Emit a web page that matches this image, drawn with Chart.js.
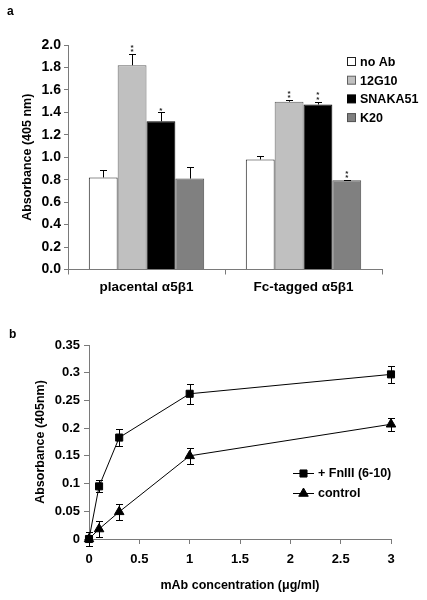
<!DOCTYPE html>
<html>
<head>
<meta charset="utf-8">
<script src="https://cdn.jsdelivr.net/npm/chart.js@4"></script>
<style>
html,body{margin:0;padding:0;background:#fff;}
#wrap{position:relative;width:427px;height:600px;overflow:hidden;}
canvas{position:absolute;left:0;}
#ca{top:0;}
#cb{top:300px;}
.lbl{position:absolute;font:bold 12px "Liberation Sans",Arial,sans-serif;color:#000;}
</style>
</head>
<body>
<div id="wrap">
<canvas id="ca" width="427" height="300"></canvas>
<canvas id="cb" width="427" height="300"></canvas>
<div class="lbl" style="left:7px;top:4px;">a</div>
<div class="lbl" style="left:9px;top:327px;">b</div>
</div>
<script>
// ---- Panel a data ----
const categories = ['placental \u03b15\u03b21', 'Fc-tagged \u03b15\u03b21'];
const seriesNames = ['no Ab', '12G10', 'SNAKA51', 'K20'];
const noAb = [0.82, 0.98];
const noAbErr = [0.07, 0.03];
const mab12G10 = [1.82, 1.495];
const mab12G10Err = [0.10, 0.015];
const snaka51 = [1.32, 1.47];
const snaka51Err = [0.08, 0.025];
const k20 = [0.81, 0.795];
const k20Err = [0.10, 0.004];
const significance = [['', '**', '*', ''], ['', '**', '**', '**']];
const yTicksA = [0, 2, 0.2];

// ---- Panel b data ----
const concentration = [0, 0.1, 0.3, 1, 3];
const fnIII = [0, 0.095, 0.183, 0.262, 0.297];
const fnIIIErr = [0.012, 0.011, 0.016, 0.018, 0.015];
const control = [0, 0.018, 0.049, 0.150, 0.207];
const controlErr = [0.004, 0.014, 0.015, 0.015, 0.012];
const lineNames = ['+ FnIII (6-10)', 'control'];

const FONT = '"Liberation Sans", Arial, sans-serif';
const AXIS = '#7a7a7a';

Chart.defaults.font.family = FONT;
Chart.defaults.color = '#000';

const barColors = ['#ffffff', '#c0c0c0', '#000000', '#808080'];
const barBorders = ['#202020', '#606060', '#000000', '#505050'];
const barValues = [noAb, mab12G10, snaka51, k20];
const barErrs = [noAbErr, mab12G10Err, snaka51Err, k20Err];

const barErrPlugin = {
  id: 'barErr',
  afterDatasetsDraw(chart) {
    const ctx = chart.ctx, y = chart.scales.y;
    ctx.save();
    chart.data.datasets.forEach((ds, di) => {
      const meta = chart.getDatasetMeta(di);
      meta.data.forEach((bar, i) => {
        const v = ds.data[i], e = barErrs[di][i];
        const yt = y.getPixelForValue(v + e), yb = y.getPixelForValue(v);
        ctx.strokeStyle = '#000'; ctx.lineWidth = 1;
        ctx.beginPath();
        ctx.moveTo(Math.round(bar.x) + 0.5, yb);
        ctx.lineTo(Math.round(bar.x) + 0.5, Math.round(yt) + 0.5);
        ctx.moveTo(Math.round(bar.x) - 3, Math.round(yt) + 0.5);
        ctx.lineTo(Math.round(bar.x) + 4, Math.round(yt) + 0.5);
        ctx.stroke();
        const s = significance[i][di];
        if (s) {
          ctx.fillStyle = '#222';
          ctx.font = 'bold 8px ' + FONT;
          ctx.textAlign = 'center'; ctx.textBaseline = 'middle';
          for (let k = 0; k < s.length; k++) {
            ctx.fillText('*', bar.x, yt - 3 - k * 4.5 + 1);
          }
        }
      });
    });
    // legend
    ctx.font = 'bold 12.5px ' + FONT;
    ctx.textAlign = 'left'; ctx.textBaseline = 'middle';
    seriesNames.forEach((n, i) => {
      const yy = 62 + i * 18.7;
      ctx.fillStyle = barColors[i];
      ctx.fillRect(347.5, yy - 4.5, 8, 8);
      ctx.strokeStyle = barBorders[i];
      ctx.strokeRect(347.5, yy - 4.5, 8, 8);
      ctx.fillStyle = '#000';
      ctx.fillText(n, 360, yy + 0.5);
    });
    ctx.restore();
  }
};

new Chart(document.getElementById('ca'), {
  type: 'bar',
  data: {
    labels: categories,
    datasets: seriesNames.map((n, i) => ({
      label: n,
      data: barValues[i],
      backgroundColor: barColors[i],
      borderColor: barBorders[i],
      borderWidth: 1,
      barPercentage: 1,
      categoryPercentage: 0.735
    }))
  },
  options: {
    responsive: false, animation: false, devicePixelRatio: 1,
    layout: {padding: {top: 45, right: 45, left: 0, bottom: 0}},
    plugins: {legend: {display: false}, tooltip: {enabled: false}},
    scales: {
      x: {
        grid: {offset: true, drawOnChartArea: false, color: AXIS, tickLength: 5},
        border: {color: AXIS},
        ticks: {font: {family: FONT, size: 13.5, weight: 'bold'}, color: '#000', padding: 5},
        afterFit(s) { s.height = 30.5; }
      },
      y: {
        min: yTicksA[0], max: yTicksA[1],
        ticks: {stepSize: yTicksA[2], font: {family: FONT, size: 14, weight: 'bold'}, color: '#000', padding: 3,
          callback: v => v.toFixed(1)},
        grid: {drawOnChartArea: false, color: AXIS, tickLength: 4},
        border: {color: AXIS},
        title: {display: true, text: 'Absorbance (405 nm)', font: {family: FONT, size: 12.5, weight: 'bold'}, color: '#000', padding: {top: 20, bottom: 0}},
        afterFit(s) { s.width = 68; }
      }
    }
  },
  plugins: [barErrPlugin]
});

const lineErrs = [fnIIIErr, controlErr];
const lineStyles = ['rect', 'triangle'];
const lineErrPlugin = {
  id: 'lineErr',
  beforeDatasetsDraw(chart) {
    const ctx = chart.ctx, x = chart.scales.x, y = chart.scales.y;
    ctx.save();
    ctx.strokeStyle = '#000'; ctx.lineWidth = 1;
    chart.data.datasets.forEach((ds, di) => {
      ds.data.forEach((p, i) => {
        const e = lineErrs[di][i];
        const px = Math.round(x.getPixelForValue(p.x)) + 0.5;
        const yt = Math.round(y.getPixelForValue(p.y + e)) + 0.5;
        const yb = Math.round(y.getPixelForValue(p.y - e)) + 0.5;
        ctx.beginPath();
        ctx.moveTo(px, yt); ctx.lineTo(px, yb);
        ctx.moveTo(px - 3.5, yt); ctx.lineTo(px + 3.5, yt);
        ctx.moveTo(px - 3.5, yb); ctx.lineTo(px + 3.5, yb);
        ctx.stroke();
      });
    });
    ctx.restore();
  },
  afterDatasetsDraw(chart) {
    const ctx = chart.ctx;
    ctx.save();
    ctx.font = 'bold 12.5px ' + FONT;
    ctx.textAlign = 'left'; ctx.textBaseline = 'middle';
    lineNames.forEach((n, i) => {
      const yy = 173 + i * 20;
      ctx.strokeStyle = '#000'; ctx.lineWidth = 1;
      ctx.beginPath(); ctx.moveTo(293, yy + 0.5); ctx.lineTo(314, yy + 0.5); ctx.stroke();
      ctx.fillStyle = '#000';
      Chart.helpers.drawPoint(ctx, {pointStyle: lineStyles[i], radius: i === 0 ? 5 : 5.5, rotation: 0, borderWidth: 1}, 303.5, yy + 0.5);
      ctx.fillStyle = '#000';
      ctx.fillText(n, 318, yy + 0.5);
    });
    ctx.restore();
  }
};

new Chart(document.getElementById('cb'), {
  type: 'line',
  data: {
    datasets: lineNames.map((n, i) => ({
      label: n,
      data: concentration.map((c, k) => ({x: c, y: [fnIII, control][i][k]})),
      borderColor: '#000', borderWidth: 1,
      backgroundColor: '#000',
      pointStyle: lineStyles[i],
      pointRadius: i === 0 ? 5 : 5.5,
      pointBorderWidth: 1,
      pointBackgroundColor: '#000', pointBorderColor: '#000',
      tension: 0, clip: false
    }))
  },
  options: {
    responsive: false, animation: false, devicePixelRatio: 1,
    layout: {padding: {top: 45, right: 36, left: 0, bottom: 0}},
    plugins: {legend: {display: false}, tooltip: {enabled: false}},
    scales: {
      x: {
        type: 'linear', min: 0, max: 3,
        ticks: {stepSize: 0.5, font: {family: FONT, size: 13, weight: 'bold'}, color: '#000', padding: 8,
          callback: v => String(+v.toFixed(1))},
        grid: {drawOnChartArea: false, color: AXIS, tickLength: 5},
        border: {color: AXIS},
        title: {display: true, text: 'mAb concentration (\u03bcg/ml)', font: {family: FONT, size: 12.5, weight: 'bold'}, color: '#000', padding: {top: 0, bottom: 7}},
        afterFit(s) { s.height = 61; }
      },
      y: {
        min: 0, max: 0.35,
        ticks: {stepSize: 0.05, font: {family: FONT, size: 13, weight: 'bold'}, color: '#000', padding: 4,
          callback: v => String(+v.toFixed(2))},
        grid: {drawOnChartArea: false, color: AXIS, tickLength: 5},
        border: {color: AXIS},
        title: {display: true, text: 'Absorbance (405nm)', font: {family: FONT, size: 12.5, weight: 'bold'}, color: '#000', padding: {top: 33, bottom: 0}},
        afterFit(s) { s.width = 89; }
      }
    }
  },
  plugins: [lineErrPlugin]
});
</script>
</body>
</html>
